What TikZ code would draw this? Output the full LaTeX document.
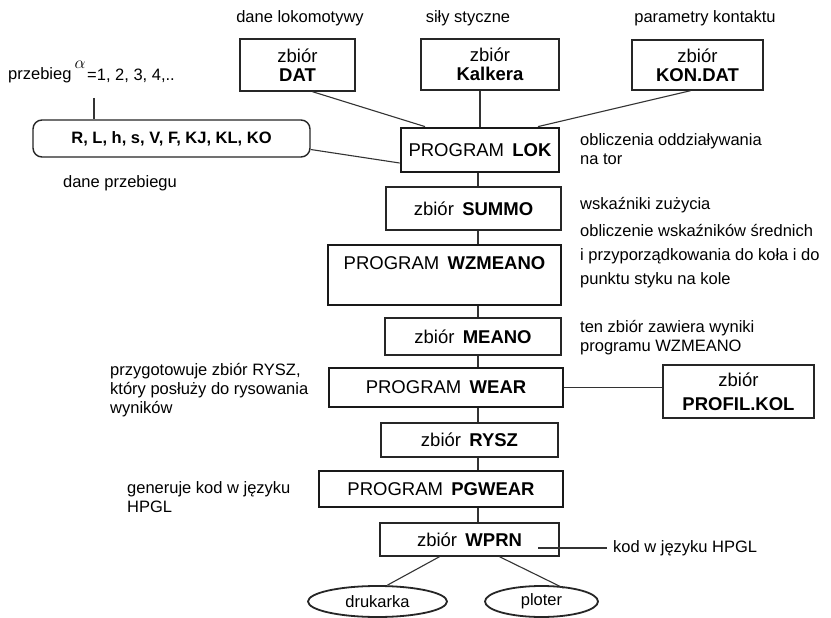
\documentclass[tikz,border=0pt]{standalone}
\usepackage{fontspec}
\setmainfont{Liberation Sans}
\usetikzlibrary{shapes.geometric}
\begin{document}
\begin{tikzpicture}[x=1pt,y=-1pt,
  conn/.style={draw=black!80, line width=1.1pt},
  zb/.style={draw=black!85, line width=1.4pt, inner sep=0pt, align=center,
    font=\fontsize{18.5}{19}\selectfont},
  prog/.style={draw=black!90, line width=2.8pt, inner sep=0pt, align=center,
    font=\fontsize{18.5}{19}\selectfont},
  boxtext/.style={inner sep=0pt, font=\fontsize{18.5}{19}\selectfont},
  ell/.style={draw=black!85, line width=1.8pt, ellipse, inner sep=0pt,
    font=\fontsize{16.5}{19}\selectfont},
  ann/.style={inner sep=0pt, anchor=west, align=left,
    font=\fontsize{16.5}{19}\selectfont},
  annc/.style={inner sep=0pt, anchor=center, font=\fontsize{16.5}{19}\selectfont}
]
\useasboundingbox (0,0) rectangle (831,618);
\fill[white] (0,0) rectangle (831,618);

% top data boxes
\node[zb, minimum width=115pt, minimum height=52pt] (dat) at (297.5,65) {zbiór\\\textbf{DAT}};
\node[zb, minimum width=138pt, minimum height=51pt] (kalk) at (490,64.5) {zbiór\\\textbf{Kalkera}};
\node[zb, minimum width=131pt, minimum height=50pt] (kon) at (697.5,65) {zbiór\\\textbf{KON.DAT}};

\node[annc] (t1) at (300,18) {dane lokomotywy};
\node[annc] (t2) at (468,18) {siły styczne};
\node[annc] (t3) at (705,18) {parametry kontaktu};

% run parameters
\node[zb, rounded corners=9pt, minimum width=277pt, minimum height=37pt,
  font=\fontsize{16.5}{19}\selectfont] (par) at (171.5,138.5) {\textbf{R, L, h, s, V, F, KJ, KL, KO}};
\node[ann] (prz) at (8,75) {przebieg};
\node[inner sep=0pt, font=\fontsize{16}{19}\selectfont] (alf) at (80,65) {$\alpha$};
\node[ann] (eq) at (87,76) {=1, 2, 3, 4,..};
\coordinate (pa) at (94,98);
\draw[conn] (pa) -- (pa |- par.north);
\node[annc] (dp) at (120,183) {dane przebiegu};

% main column
\node[prog, minimum width=158pt, minimum height=44pt] (lok) at (480,150) {PROGRAM\hspace{0.45em}\textbf{LOK}};
\node[zb, minimum width=175pt, minimum height=43pt] (summo) at (473.5,208.5) {zbiór\hspace{0.45em}\textbf{SUMMO}};
\node[prog, minimum width=233pt, minimum height=60pt] (wz) at (444.5,275) {};
\node[boxtext] (wzt) at (444.5,263) {PROGRAM\hspace{0.45em}\textbf{WZMEANO}};
\node[zb, minimum width=176pt, minimum height=37pt] (meano) at (473,336.5) {zbiór\hspace{0.45em}\textbf{MEANO}};
\node[prog, minimum width=234pt, minimum height=39pt] (wear) at (446,387.5) {PROGRAM\hspace{0.45em}\textbf{WEAR}};
\node[zb, minimum width=151pt, minimum height=53pt, font=\fontsize{18.5}{24}\selectfont] (prof) at (738.5,391.5) {zbiór\\\textbf{PROFIL.KOL}};
\node[zb, minimum width=177pt, minimum height=34pt] (rysz) at (469.5,440) {zbiór\hspace{0.45em}\textbf{RYSZ}};
\node[prog, minimum width=244pt, minimum height=36pt] (pgw) at (441,489) {PROGRAM\hspace{0.45em}\textbf{PGWEAR}};
\node[zb, minimum width=179pt, minimum height=33pt] (wprn) at (469.5,539.5) {zbiór\hspace{0.45em}\textbf{WPRN}};
\node[ell, minimum width=139pt, minimum height=31pt] (druk) at (377.5,601.5) {drukarka};
\node[ell, minimum width=113pt, minimum height=31pt] (plot) at (541.5,601.5) {ploter};

% annotations
\node[ann] (a1) at (580,149.5) {obliczenia oddziaływania\\na tor};
\node[ann] (a2) at (580,205) {wskaźniki zużycia};
\node[ann, font=\fontsize{16.5}{24}\selectfont] (a3) at (580,256) {obliczenie wskaźników średnich\\i przyporządkowania do koła i do\\punktu styku na kole};
\node[ann] (a4) at (580,337.5) {ten zbiór zawiera wyniki\\programu WZMEANO};
\node[ann] (a5) at (110,390) {przygotowuje zbiór RYSZ,\\który posłuży do rysowania\\wyników};
\node[ann] (a6) at (127,497) {generuje kod w języku\\HPGL};
\node[ann] (kod) at (613,548) {kod w języku HPGL};
\coordinate (ks) at (538,548);
\draw[conn] (ks) -- ([xshift=-6pt]kod.west);

% connectors into LOK
\draw[conn] ([xshift=15pt]dat.south) -- ([xshift=-55pt]lok.north);
\draw[conn] (lok.north |- kalk.south) -- (lok.north);
\draw[conn] ([xshift=-7pt]kon.south) -- ([xshift=58pt]lok.north);
\draw[conn] ([yshift=-11pt]par.east) -- ([yshift=-13pt]lok.west);

% vertical chain
\coordinate (col) at (478,0);
\draw[conn] (col |- lok.south) -- (col |- summo.north);
\draw[conn] (col |- summo.south) -- (col |- wz.north);
\draw[conn] (col |- wz.south) -- (col |- meano.north);
\draw[conn] (col |- meano.south) -- (col |- wear.north);
\draw[conn] (col |- wear.south) -- (col |- rysz.north);
\draw[conn] (col |- rysz.south) -- (col |- pgw.north);
\draw[conn] (col |- pgw.south) -- (col |- wprn.north);

\draw[conn] (wear.east) -- (wear.east -| prof.west);
\draw[conn] ([xshift=-30pt]wprn.south) -- ([xshift=10pt]druk.north);
\draw[conn] ([xshift=30pt]wprn.south) -- ([xshift=22pt,yshift=-3pt]plot.north);
\end{tikzpicture}
\end{document}
